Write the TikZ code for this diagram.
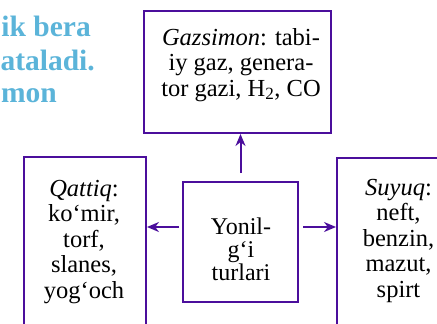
\documentclass[tikz,border=0pt]{standalone}
\usepackage{fontspec}
\setmainfont{Liberation Serif}
\usetikzlibrary{arrows.meta}
\definecolor{framepurple}{HTML}{4B0E9C}
\definecolor{headblue}{HTML}{5BB4D9}

\begin{document}
\begin{tikzpicture}[x=1pt, y=-1pt,
    box/.style={draw=framepurple, line width=2pt, minimum width=#1, inner sep=0pt},
    boxtext/.style={align=center, inner sep=0pt, anchor=base, font=\fontsize{24.5}{25.5}\selectfont},
    headtext/.style={anchor=base east, inner sep=0pt, text=headblue, font=\bfseries\fontsize{29.5}{33}\selectfont},
    link/.style={draw=framepurple, line width=2pt, -{Stealth[length=12pt,width=10pt]}}]

  %% ════ cropped heading text (left edge is cut by the page) ════
  \node[headtext] (headA) at (91,36) {ik bera};
  \node[headtext] (headB) at (95,70) {ataladi.};
  \node[headtext] (headC) at (57,102) {mon};

  %% ════ boxes ════
  \node[box=187pt, minimum height=122pt] (gasbox) at (237.5,72) {};
  \node[box=115pt, minimum height=120pt] (fuelbox) at (240.5,242) {};
  \node[box=122pt, minimum height=190pt] (solidbox) at (85,252) {};
  \node[box=122pt, minimum height=190pt] (liquidbox) at (398,253) {};

  %% ════ box texts (anchor = baseline of the last line) ════
  \node[boxtext] (gastext) at (241,96)
    {\textit{Gazsimon}: tabi-\\iy gaz, genera-\\tor gazi, H\textsubscript{2}, CO};
  \node[boxtext, font=\fontsize{24}{23}\selectfont] (fueltext) at (241,280)
    {Yonil-\\g‘i\\turlari};
  \node[boxtext] (solidtext) at (84,298)
    {\textit{Qattiq}:\\ko‘mir,\\torf,\\slanes,\\yog‘och};
  \node[boxtext] (liquidtext) at (398.5,297)
    {\textit{Suyuq}:\\neft,\\benzin,\\mazut,\\spirt};

  %% ════ arrows ════
  \draw[link, shorten <=8pt] (fuelbox.north) -- (fuelbox.north |- gasbox.south);
  \draw[link, shorten <=3pt] (fuelbox.west |- 0,227) -- (solidbox.east |- 0,227);
  \draw[link, shorten <=4pt] (fuelbox.east |- 0,227) -- (liquidbox.west |- 0,227);

  \pgfresetboundingbox
  \path[use as bounding box] (0,0) rectangle (437,324);
\end{tikzpicture}
\end{document}
